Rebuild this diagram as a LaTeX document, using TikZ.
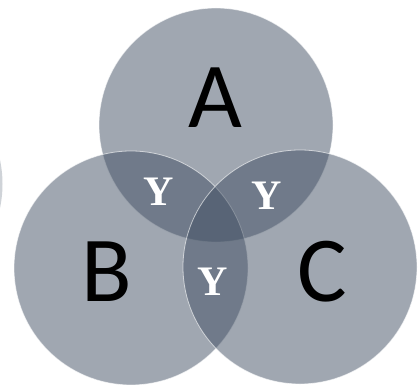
\documentclass[tikz,border=0pt]{standalone}
\usepackage{fontspec}
\setmainfont{Carlito}
\newfontfamily\yfont{Liberation Serif}
\definecolor{venn}{RGB}{65,79,99}
\tikzset{
  set/.style={fill=venn, fill opacity=0.5, draw=white, draw opacity=0.6, line width=0.8pt},
  biglabel/.style={inner sep=0pt, text=black, font=\fontsize{93}{100}\selectfont},
  ylabel/.style={inner sep=0pt, text=white, font=\yfont\bfseries\fontsize{42}{46}\selectfont}
}
\begin{document}
\begin{tikzpicture}[x=1pt,y=-1pt]
\useasboundingbox (0,0) rectangle (420,385);
\begin{scope}
\clip (0,0) rectangle (420,385);
\fill[fill=venn, fill opacity=0.25] (-114.5,184) circle (117);
\path[set] (216,125) circle (117);
\path[set] (131,268) circle (117);
\path[set] (300,267) circle (117);
\end{scope}
\node[biglabel] (A) at (215,98) {A};
\node[biglabel] (B) at (107,272) {B};
\node[biglabel] (C) at (322,272) {C};
\node[ylabel] (yab) at (159,192) {Y};
\node[ylabel] (yac) at (267,196) {Y};
\node[ylabel] (ybc) at (213,282) {Y};
\end{tikzpicture}
\end{document}
